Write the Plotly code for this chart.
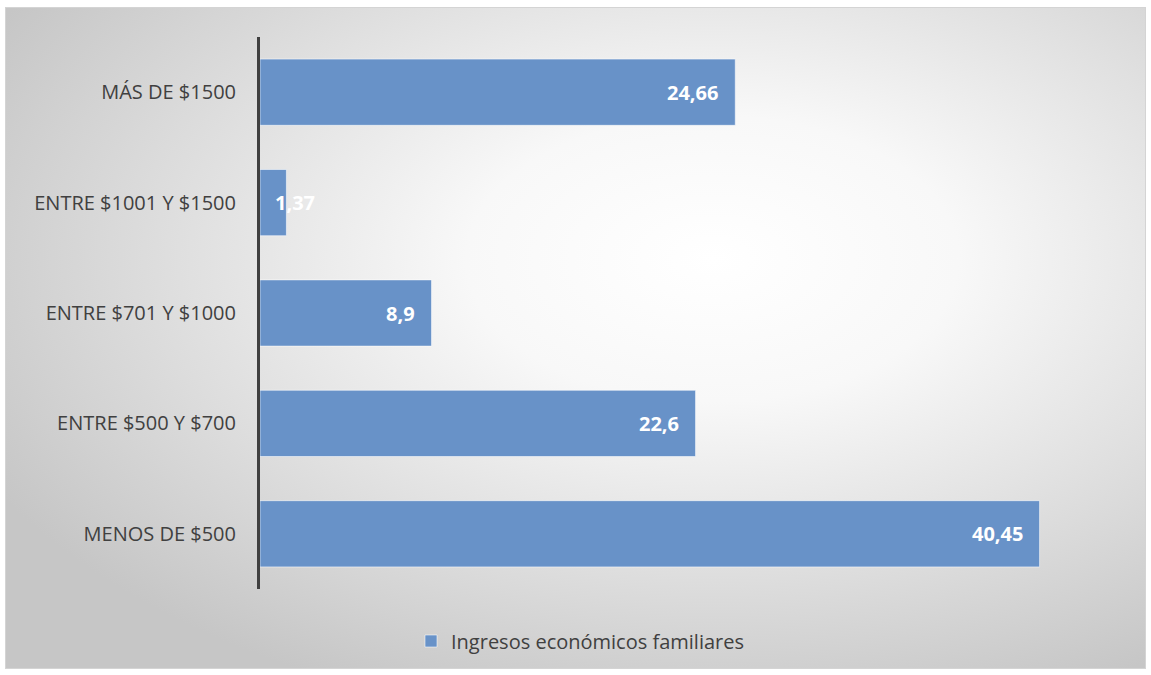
import base64
import plotly.graph_objects as go

# Income brackets (bottom to top) and share of families in each
categories = ["MENOS DE $500", "ENTRE $500 Y $700", "ENTRE $701 Y $1000",
              "ENTRE $1001 Y $1500", "MÁS DE $1500"]
values = [40.45, 22.6, 8.9, 1.37, 24.66]
labels = ["40,45", "22,6", "8,9", "1,37", "24,66"]
series_name = "Ingresos económicos familiares"

W, H = 1151, 675
ML, MR, MT, MB = 260, 43, 37, 86
PW, PH = W - ML - MR, H - MT - MB
XMAX = 44

BAR = "#6892C8"
TEXT = "#404040"
FONT = "'Open Sans', Lato, sans-serif"

# Chart-area background: soft radial gradient inside a thin frame
svg = f"""<svg xmlns='http://www.w3.org/2000/svg' width='{W}' height='{H}' viewBox='0 0 {W} {H}'>
<defs><radialGradient id='g' cx='0.62' cy='0.38' r='0.72'>
<stop offset='0' stop-color='#ffffff'/><stop offset='0.3' stop-color='#f8f8f8'/>
<stop offset='1' stop-color='#c6c6c6'/></radialGradient></defs>
<rect x='0' y='0' width='{W}' height='{H}' fill='#ffffff'/>
<rect x='5.5' y='7.5' width='{W-11}' height='{H-14}' fill='url(#g)' stroke='#d4d4d4' stroke-width='1'/>
</svg>"""
bg_uri = "data:image/svg+xml;base64," + base64.b64encode(svg.encode()).decode()

fig = go.Figure()
fig.add_trace(go.Bar(
    y=categories, x=values, orientation="h", name=series_name,
    marker=dict(color=BAR, line=dict(color="rgba(255,255,255,0.55)", width=1)),
    width=0.6,
    hoverinfo="skip",
))

# Value labels at the inner end of each bar; short bars get the label
# placed from the bar's start instead
px_per_unit = PW / XMAX
annotations = []
for cat, val, lab in zip(categories, values, labels):
    fits = val * px_per_unit > 80
    annotations.append(dict(
        x=val if fits else 0, y=cat, xref="x", yref="y",
        text=f"<b>{lab}</b>", showarrow=False,
        xanchor="right" if fits else "left",
        xshift=-15 if fits else 13,
        font=dict(family=FONT, size=20, color="white"),
    ))

fig.update_layout(
    width=W, height=H,
    margin=dict(l=ML, r=MR, t=MT, b=MB, pad=0, autoexpand=False),
    paper_bgcolor="white", plot_bgcolor="rgba(0,0,0,0)",
    font=dict(family=FONT, color=TEXT),
    showlegend=True,
    legend=dict(orientation="h", x=(580 - ML) / PW, xanchor="center",
                y=-(641 - (MT + PH)) / PH, yanchor="middle",
                font=dict(size=20, color=TEXT), bgcolor="rgba(0,0,0,0)",
                itemwidth=30),
    xaxis=dict(range=[0, XMAX], visible=False, fixedrange=True),
    yaxis=dict(showline=True, linecolor="#404040", linewidth=3,
               showgrid=False, zeroline=False, ticks="",
               ticklabelstandoff=17,
               tickfont=dict(size=20, color=TEXT, family=FONT),
               fixedrange=True),
    annotations=annotations,
    images=[dict(source=bg_uri, xref="paper", yref="paper",
                 x=-ML / PW, y=1 + MT / PH, sizex=W / PW, sizey=H / PH,
                 xanchor="left", yanchor="top", sizing="stretch",
                 layer="below")],
    bargap=0.4,
)

fig.write_html("out.html")
